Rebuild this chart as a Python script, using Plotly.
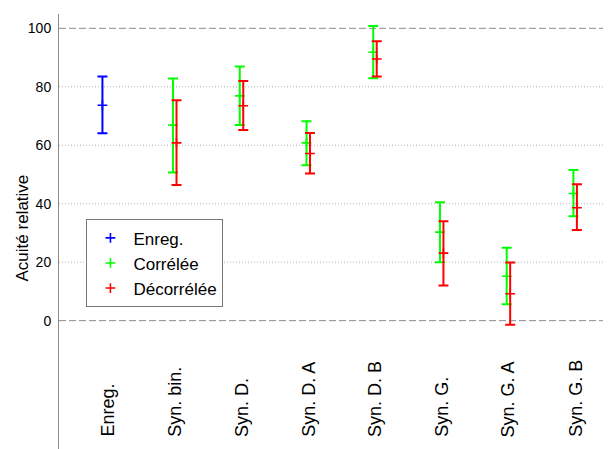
import plotly.graph_objects as go

# ---------------- data ----------------
categories = ["Enreg.", "Syn. bin.", "Syn. D.", "Syn. D. A", "Syn. D. B",
              "Syn. G.", "Syn. G. A", "Syn. G. B"]

enreg_mean = [73.7]
enreg_upper = [83.5]
enreg_lower = [64.1]

corr_mean = [66.9, 76.9, 60.8, 91.8, 30.3, 15.2, 43.5]
corr_upper = [82.8, 86.9, 68.2, 100.8, 40.5, 24.9, 51.5]
corr_lower = [50.7, 66.9, 53.2, 82.9, 20.0, 5.6, 35.7]

decorr_mean = [60.8, 73.5, 57.2, 89.5, 23.1, 9.2, 38.6]
decorr_upper = [75.4, 82.0, 64.2, 95.6, 34.0, 19.9, 46.7]
decorr_lower = [46.4, 65.2, 50.3, 83.5, 12.0, -1.4, 31.0]

y_ticks = [0, 20, 40, 60, 80, 100]
grid_dotted = [20, 40, 60, 80]
grid_dashed = [0, 100]

# ---------------- styling ----------------
FONT = "Liberation Sans, Arial, sans-serif"
BLUE, GREEN, RED = "#0000ff", "#00ff00", "#ff0000"
offsets = {"Enreg.": -0.084, "Corrélée": -0.026, "Décorrélée": 0.026}


def series(name, cat_idx, mean, upper, lower, color):
    xs = [i + offsets[name] for i in cat_idx]
    return go.Scatter(
        x=xs, y=mean, name=name, mode="markers",
        marker=dict(symbol="cross-thin", size=7, color=color,
                    line=dict(color=color, width=1.6)),
        error_y=dict(type="data", symmetric=False,
                     array=[u - m for u, m in zip(upper, mean)],
                     arrayminus=[m - l for m, l in zip(mean, lower)],
                     color=color, thickness=2, width=5),
    )


fig = go.Figure()
fig.add_trace(series("Enreg.", [1], enreg_mean, enreg_upper, enreg_lower, BLUE))
syn_idx = list(range(2, len(categories) + 1))
fig.add_trace(series("Corrélée", syn_idx, corr_mean, corr_upper, corr_lower, GREEN))
fig.add_trace(series("Décorrélée", syn_idx, decorr_mean, decorr_upper, decorr_lower, RED))

shapes = []
for g in grid_dotted:
    shapes.append(dict(type="line", xref="paper", yref="y", x0=0, x1=1, y0=g, y1=g,
                       line=dict(color="#b4b4b4", width=1, dash="1px,2px"), layer="below"))
for g in grid_dashed:
    shapes.append(dict(type="line", xref="paper", yref="y", x0=0, x1=1, y0=g, y1=g,
                       line=dict(color="#8c8c8c", width=1, dash="7px,3px"), layer="below"))

LABEL_Y = -40.5
annotations = [
    dict(x=i + 1, y=LABEL_Y, xref="x", yref="y", text=c, showarrow=False,
         textangle=-90, xanchor="center", yanchor="bottom",
         font=dict(family=FONT, size=18, color="#000000"))
    for i, c in enumerate(categories)
]
annotations.append(
    dict(x=-0.067, y=0.507, xref="paper", yref="paper", text="Acuité relative",
         showarrow=False, textangle=-90, xanchor="center", yanchor="middle",
         font=dict(family=FONT, size=17, color="#000000"))
)

# the page body has an 8px margin, so the figure is sized to end at the window edge
fig.update_layout(
    width=603, height=441,
    margin=dict(l=51, r=0, t=6, b=0),
    paper_bgcolor="white", plot_bgcolor="white",
    shapes=shapes, annotations=annotations,
    showlegend=True,
    legend=dict(x=0.0497, y=0.528, xanchor="left", yanchor="top",
                bgcolor="white", bordercolor="#777777", borderwidth=1,
                font=dict(family=FONT, size=17, color="#000000"),
                itemwidth=36, tracegroupgap=0),
    xaxis=dict(range=[0.265, 8.537], showgrid=False, zeroline=False,
               showticklabels=False, showline=False, ticks="", automargin=False),
    yaxis=dict(range=[-43.9, 104.9], tickvals=y_ticks, showgrid=False,
               zeroline=False, showline=True, linecolor="#8c8c8c", linewidth=1,
               ticks="", ticklabelstandoff=4, automargin=False,
               tickfont=dict(family=FONT, size=14, color="#000000")),
)

fig.write_html("out.html")
